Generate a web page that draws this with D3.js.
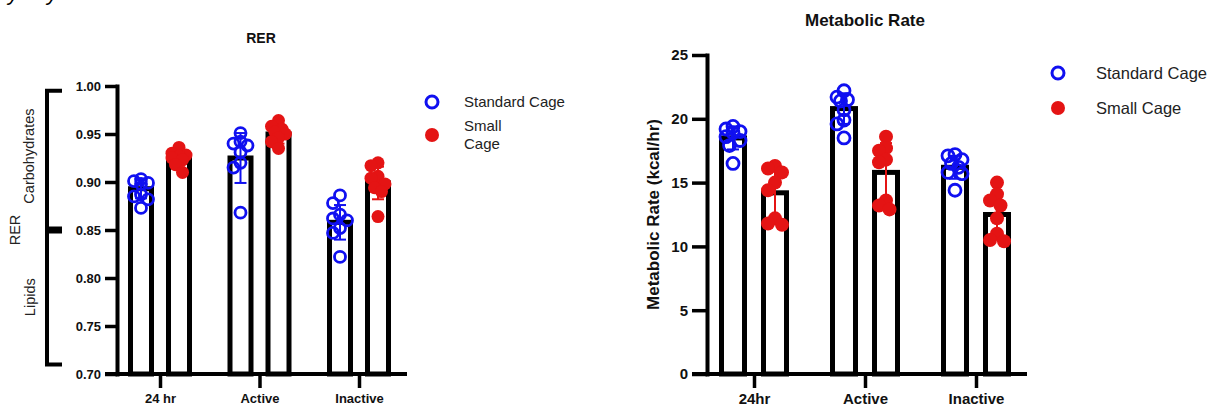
<!DOCTYPE html>
<html>
<head>
<meta charset="utf-8">
<script src="https://cdn.jsdelivr.net/npm/d3@7"></script>
<style>
  body { margin: 0; background: #fff; }
  svg text { font-family: "Liberation Sans", Arial, sans-serif; }
</style>
</head>
<body>
<div id="chart"></div>
<script>
// data
const seriesNames = ["Standard Cage", "Small Cage"];

const rerCategories = ["24 hr", "Active", "Inactive"];
const rerTicks = [0.70, 0.75, 0.80, 0.85, 0.90, 0.95, 1.00];
const rerStandardMean = [0.893, 0.925, 0.858];
const rerStandardSD = [0.010, 0.026, 0.018];
const rerSmallMean = [0.925, 0.950, 0.899];
const rerSmallSD = [0.008, 0.010, 0.017];
const rerStandardPoints = [
  [0.903, 0.901, 0.899, 0.898, 0.887, 0.885, 0.882, 0.873],
  [0.951, 0.942, 0.940, 0.938, 0.931, 0.920, 0.915, 0.868],
  [0.886, 0.878, 0.866, 0.862, 0.860, 0.852, 0.847, 0.822]
];
const rerSmallPoints = [
  [0.936, 0.930, 0.928, 0.927, 0.925, 0.923, 0.918, 0.910],
  [0.964, 0.958, 0.955, 0.952, 0.950, 0.946, 0.942, 0.935],
  [0.920, 0.917, 0.906, 0.904, 0.898, 0.894, 0.890, 0.864]
];

const mrCategories = ["24hr", "Active", "Inactive"];
const mrTicks = [0, 5, 10, 15, 20, 25];
const mrStandardMean = [18.5, 20.8, 16.2];
const mrStandardSD = [0.9, 1.2, 0.9];
const mrSmallMean = [14.2, 15.8, 12.5];
const mrSmallSD = [2.0, 2.3, 1.7];
const mrStandardPoints = [
  [19.4, 19.2, 19.0, 18.9, 18.6, 18.3, 17.9, 16.5],
  [22.2, 21.7, 21.5, 21.4, 20.7, 19.9, 19.6, 18.5],
  [17.2, 17.1, 16.8, 16.5, 16.2, 15.8, 15.7, 14.4]
];
const mrSmallPoints = [
  [16.3, 16.1, 15.8, 15.0, 14.4, 12.2, 11.8, 11.7],
  [18.6, 17.7, 17.5, 16.8, 16.6, 13.6, 13.2, 12.9],
  [15.0, 14.1, 13.6, 13.2, 12.2, 11.0, 10.5, 10.4]
];

const blue = "#1010f0", red = "#e41414";

const svg = d3.select("#chart").append("svg")
  .attr("width", 1211)
  .attr("height", 407);

// cropped caption line at the very top
svg.selectAll(".crop").data(["y", "y"]).enter().append("text")
  .attr("x", (d, i) => i ? 47 : 8)
  .attr("y", 0)
  .attr("font-size", 22)
  .attr("font-style", "italic")
  .text(d => d);

// tight scatter: points may overlap, but spread a little sideways
function dodge(ys, r) {
  const placed = [], out = new Array(ys.length);
  const order = d3.range(ys.length).sort((a, b) => ys[a] - ys[b]);
  const cands = [0, -3.5, 3.5, -7, 7];
  order.forEach(i => {
    let best = 0, bestD = -1;
    for (const c of cands) {
      const d = placed.length ? d3.min(placed, p => Math.hypot(p.x - c, p.y - ys[i])) : Infinity;
      if (d >= r * 1.3) { best = c; bestD = d; break; }
      if (d > bestD) { bestD = d; best = c; }
    }
    placed.push({ x: best, y: ys[i] });
    out[i] = best;
  });
  return out;
}

function drawChart(cfg) {
  const g = svg.append("g");
  const y = d3.scaleLinear().domain(cfg.yDomain).range([cfg.bottom, cfg.top]);
  const x = d3.scalePoint().domain(cfg.categories).range(cfg.catRange);

  const series = [
    { mean: cfg.stdMean, sd: cfg.stdSD, pts: cfg.stdPts, color: blue, off: -cfg.offset, open: true },
    { mean: cfg.smlMean, sd: cfg.smlSD, pts: cfg.smlPts, color: red, off: cfg.offset, open: false }
  ];

  // bars (hollow, thick outline)
  series.forEach(s => {
    g.selectAll(null).data(s.mean).enter().append("rect")
      .attr("x", (d, i) => x(cfg.categories[i]) + s.off - cfg.barW / 2)
      .attr("y", d => y(d))
      .attr("width", cfg.barW)
      .attr("height", d => cfg.bottom - y(d))
      .attr("fill", "none")
      .attr("stroke", "#000")
      .attr("stroke-width", 5);
  });

  // error bars
  series.forEach(s => {
    const eb = g.selectAll(null).data(s.mean).enter().append("g")
      .attr("stroke", s.color)
      .attr("stroke-width", 2);
    eb.append("line")
      .attr("x1", (d, i) => x(cfg.categories[i]) + s.off)
      .attr("x2", (d, i) => x(cfg.categories[i]) + s.off)
      .attr("y1", (d, i) => y(d - s.sd[i]))
      .attr("y2", (d, i) => y(d + s.sd[i]));
    [-1, 1].forEach(sign => {
      eb.append("line")
        .attr("x1", (d, i) => x(cfg.categories[i]) + s.off - 6)
        .attr("x2", (d, i) => x(cfg.categories[i]) + s.off + 6)
        .attr("y1", (d, i) => y(d + sign * s.sd[i]))
        .attr("y2", (d, i) => y(d + sign * s.sd[i]));
    });
  });

  // individual points
  series.forEach(s => {
    s.pts.forEach((vals, i) => {
      const ys = vals.map(v => y(v));
      const dx = dodge(ys, cfg.r);
      g.selectAll(null).data(vals).enter().append("circle")
        .attr("cx", (d, j) => x(cfg.categories[i]) + s.off + dx[j])
        .attr("cy", d => y(d))
        .attr("r", s.open ? cfg.r - 1 : cfg.r)
        .attr("fill", s.open ? "none" : s.color)
        .attr("stroke", s.open ? s.color : "none")
        .attr("stroke-width", 2.8);
    });
  });

  // y axis
  const yAxis = g.append("g")
    .attr("transform", "translate(" + cfg.left + ",0)")
    .call(d3.axisLeft(y).tickValues(cfg.ticks).tickSize(cfg.yTick).tickSizeOuter(0)
      .tickPadding(4).tickFormat(cfg.fmt));
  yAxis.select(".domain").attr("stroke-width", 4).attr("stroke-linecap", "square");
  yAxis.selectAll(".tick line").attr("stroke-width", 3.5);
  yAxis.selectAll(".tick text")
    .attr("font-size", cfg.tickFont).attr("font-weight", "bold").attr("fill", "#111")
    .attr("font-family", "Liberation Sans, Arial, sans-serif");

  // x axis
  const xAxis = g.append("g")
    .attr("transform", "translate(0," + cfg.bottom + ")")
    .call(d3.axisBottom(x).tickSize(14).tickSizeOuter(0).tickPadding(cfg.catPad));
  xAxis.select(".domain").remove();
  xAxis.append("line")
    .attr("x1", cfg.left - cfg.yTick).attr("x2", cfg.right)
    .attr("stroke", "#000").attr("stroke-width", 4);
  xAxis.selectAll(".tick line").attr("stroke-width", 3.5);
  xAxis.selectAll(".tick text")
    .attr("font-size", cfg.catFont).attr("font-weight", "bold").attr("fill", "#111")
    .attr("font-family", "Liberation Sans, Arial, sans-serif");

  // title
  g.append("text")
    .attr("x", cfg.titleX).attr("y", cfg.titleY)
    .attr("text-anchor", "middle")
    .attr("font-size", cfg.titleFont).attr("font-weight", "bold").attr("fill", "#111")
    .text(cfg.title);

  // legend
  const lg = g.append("g");
  series.forEach((s, k) => {
    lg.append("circle")
      .attr("cx", cfg.legX).attr("cy", cfg.legY[k])
      .attr("r", s.open ? 6 : 7)
      .attr("fill", s.open ? "none" : s.color)
      .attr("stroke", s.open ? s.color : "none")
      .attr("stroke-width", 3);
    const lines = cfg.legLines[k];
    lines.forEach((t, j) => {
      lg.append("text")
        .attr("x", cfg.legX + cfg.legGap)
        .attr("y", cfg.legY[k] + (j - (lines.length - 1) / 2) * 18)
        .attr("dy", "0.35em")
        .attr("font-size", cfg.legFont).attr("fill", "#222")
        .text(t);
    });
  });
  return { g, y };
}

// RER
const rer = drawChart({
  categories: rerCategories, ticks: rerTicks, yDomain: [0.70, 1.00],
  top: 86, bottom: 374, left: 117, right: 407, catRange: [160, 359],
  offset: 19, barW: 21, r: 6.5, yTick: 12, fmt: d3.format(".2f"), catPad: 6,
  tickFont: 13, catFont: 13, title: "RER", titleX: 261, titleY: 43, titleFont: 14,
  stdMean: rerStandardMean, stdSD: rerStandardSD, stdPts: rerStandardPoints,
  smlMean: rerSmallMean, smlSD: rerSmallSD, smlPts: rerSmallPoints,
  legX: 432, legY: [102, 135], legGap: 32, legFont: 15,
  legLines: [["Standard Cage"], ["Small", "Cage"]]
});

// bracket with Carbohydrates / Lipids on the RER axis
const yR = rer.y;
rer.g.append("path")
  .attr("d", "M62," + yR(0.995) + "H47V" + yR(0.71) + "H62")
  .attr("fill", "none").attr("stroke", "#000").attr("stroke-width", 4);
rer.g.append("line")
  .attr("x1", 47).attr("x2", 62).attr("y1", yR(0.85)).attr("y2", yR(0.85))
  .attr("stroke", "#000").attr("stroke-width", 7);
[["RER", 15, 0.85], ["Carbohydrates", 29, 0.927], ["Lipids", 30, 0.78]].forEach(t => {
  rer.g.append("text")
    .attr("transform", "translate(" + t[1] + "," + yR(t[2]) + ") rotate(-90)")
    .attr("text-anchor", "middle").attr("dy", "0.35em")
    .attr("font-size", 14.5).attr("fill", "#222")
    .text(t[0]);
});

// Metabolic Rate
const mr = drawChart({
  categories: mrCategories, ticks: mrTicks, yDomain: [0, 25],
  top: 55, bottom: 374, left: 707, right: 1027, catRange: [754, 976],
  offset: 21, barW: 23, r: 7, yTick: 15, fmt: d3.format("d"), catPad: 5,
  tickFont: 15, catFont: 15, title: "Metabolic Rate", titleX: 865, titleY: 26, titleFont: 17,
  stdMean: mrStandardMean, stdSD: mrStandardSD, stdPts: mrStandardPoints,
  smlMean: mrSmallMean, smlSD: mrSmallSD, smlPts: mrSmallPoints,
  legX: 1058, legY: [73, 108], legGap: 38, legFont: 16.5,
  legLines: [["Standard Cage"], ["Small Cage"]]
});
mr.g.append("text")
  .attr("transform", "translate(653," + mr.y(12.5) + ") rotate(-90)")
  .attr("text-anchor", "middle").attr("dy", "0.35em")
  .attr("font-size", 17).attr("font-weight", "bold").attr("fill", "#111")
  .text("Metabolic Rate (kcal/hr)");
</script>
</body>
</html>
